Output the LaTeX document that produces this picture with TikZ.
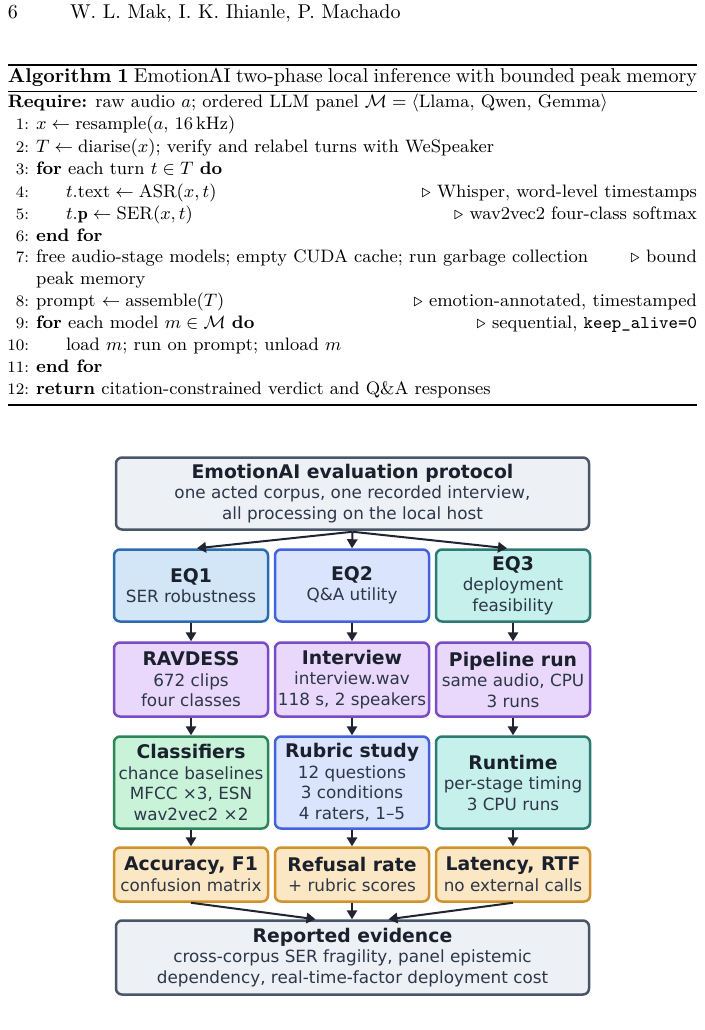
\documentclass[tikz,border=0pt]{standalone}
\usepackage{fontspec}
\usepackage{amsmath,amssymb}
\usetikzlibrary{arrows.meta}
\newfontfamily\dv{DejaVu Sans}
\definecolor{titc}{HTML}{1A202C}
\definecolor{bodc}{HTML}{2D3748}
\definecolor{arrc}{HTML}{1F2430}
\definecolor{gryf}{HTML}{EDF1F6}\definecolor{gryd}{HTML}{4A5568}
\definecolor{bluf}{HTML}{D2E6F8}\definecolor{blud}{HTML}{2B6CB0}
\definecolor{indf}{HTML}{DBE4FD}\definecolor{indd}{HTML}{4263DB}
\definecolor{tealf}{HTML}{C6F0EB}\definecolor{teald}{HTML}{2C7A72}
\definecolor{purf}{HTML}{E9D8FB}\definecolor{purd}{HTML}{7A4CC4}
\definecolor{grnf}{HTML}{C9F3D8}\definecolor{grnd}{HTML}{2F855A}
\definecolor{orgf}{HTML}{FCE7C4}\definecolor{orgd}{HTML}{CF922C}
\newcommand{\ttl}[1]{{\bfseries\color{titc}\fontsize{9.4}{10.5}\selectfont #1}}
\begin{document}
\begin{tikzpicture}[x=0.5pt,y=-0.5pt,
  hx/.style={inner sep=0pt,outer sep=0pt,font=\fontsize{10}{12}\selectfont},
  tx/.style={inner sep=0pt,outer sep=0pt,font=\fontsize{9}{11}\selectfont},
  lno/.style={inner sep=0pt,outer sep=0pt,anchor=base east,font=\fontsize{8}{9.5}\selectfont},
  box/.style={rounded corners=3pt,line width=1.25pt,align=center,inner sep=0pt,
    text=bodc,font=\dv\fontsize{8.4}{10.25}\selectfont},
  colbox/.style={box,minimum width=77pt},
  widebox/.style={box,minimum width=236.5pt},
  arr/.style={draw=arrc,line width=1pt,-{Triangle[length=4.5pt,width=5.2pt]}}
]
\fill[white] (0,0) rectangle (705,1030);
\useasboundingbox (0,0) rectangle (705,1030);
% header
\node[hx,anchor=base west] (pg) at (8,18) {6};
\node[hx,anchor=base west] (hd) at (70,18) {W. L. Mak, I. K. Ihianle, P. Machado};
% algorithm
\draw[line width=0.8pt] (8,65) -- (697,65);
\node[hx,anchor=base west] (cap) at (8,82) {\hbox to 344.5pt{\textbf{Algorithm 1} EmotionAI two-phase local inference with bounded peak memory}};
\draw[line width=0.4pt] (8,91.5) -- (697,91.5);
\node[tx,anchor=base west] (req) at (8,107) {\textbf{Require:} raw audio $a$; ordered LLM panel $\mathcal{M}=\langle$Llama, Qwen, Gemma$\rangle$};
\node[lno] (n1) at (29,129) {1:};
\node[tx,anchor=base west] (l1) at (36,129) {$x\leftarrow\mathrm{resample}(a,\,16\,\mathrm{kHz})$};
\node[lno] (n2) at (29,152) {2:};
\node[tx,anchor=base west] (l2) at (36,152) {$T\leftarrow\mathrm{diarise}(x)$; verify and relabel turns with WeSpeaker};
\node[lno] (n3) at (29,174) {3:};
\node[tx,anchor=base west] (l3) at (36,174) {\textbf{for} each turn $t\in T$ \textbf{do}};
\node[lno] (n4) at (29,197) {4:};
\node[tx,anchor=base west] (l4) at (66,197) {$t.\mathrm{text}\leftarrow\mathrm{ASR}(x,t)$};
\node[tx,anchor=base east] (c4) at (697,197) {$\triangleright$ Whisper, word-level timestamps};
\node[lno] (n5) at (29,219) {5:};
\node[tx,anchor=base west] (l5) at (66,219) {$t.\mathbf{p}\leftarrow\mathrm{SER}(x,t)$};
\node[tx,anchor=base east] (c5) at (697,219) {$\triangleright$ wav2vec2 four-class softmax};
\node[lno] (n6) at (29,241) {6:};
\node[tx,anchor=base west] (l6) at (36,241) {\textbf{end for}};
\node[lno] (n7) at (29,262) {7:};
\node[tx,anchor=base west] (l7) at (36,262) {free audio-stage models; empty CUDA cache; run garbage collection};
\node[tx,anchor=base east] (c7) at (697,262) {$\triangleright$ bound};
\node[tx,anchor=base west] (l7b) at (36,284) {peak memory};
\node[lno] (n8) at (29,306) {8:};
\node[tx,anchor=base west] (l8) at (36,306) {prompt $\leftarrow\mathrm{assemble}(T)$};
\node[tx,anchor=base east] (c8) at (697,306) {$\triangleright$ emotion-annotated, timestamped};
\node[lno] (n9) at (29,328) {9:};
\node[tx,anchor=base west] (l9) at (36,328) {\textbf{for} each model $m\in\mathcal{M}$ \textbf{do}};
\node[tx,anchor=base east] (c9) at (697,328) {$\triangleright$ sequential, \texttt{keep\_alive=0}};
\node[lno] (n10) at (29,350) {10:};
\node[tx,anchor=base west] (l10) at (66,350) {load $m$; run on prompt; unload $m$};
\node[lno] (n11) at (29,372) {11:};
\node[tx,anchor=base west] (l11) at (36,372) {\textbf{end for}};
\node[lno] (n12) at (29,394) {12:};
\node[tx,anchor=base west] (l12) at (36,394) {\textbf{return} citation-constrained verdict and Q\&A responses};
\draw[line width=0.6pt] (8,405) -- (697,405);
% diagram
\node[widebox,fill=gryf,draw=gryd,minimum height=36pt] (top) at (352.5,493.5)
  {\ttl{EmotionAI evaluation protocol}\\one acted corpus, one recorded interview,\\all processing on the local host};
\node[colbox,fill=bluf,draw=blud,minimum height=36pt] (eq1) at (191,585.5) {\ttl{EQ1}\\SER robustness};
\node[colbox,fill=indf,draw=indd,minimum height=36pt] (eq2) at (352,585.5) {\ttl{EQ2}\\Q\&A utility};
\node[colbox,fill=tealf,draw=teald,minimum height=36pt] (eq3) at (513,585.5) {\ttl{EQ3}\\deployment\\feasibility};
\node[colbox,fill=purf,draw=purd,minimum height=37pt] (rav) at (191,679.5) {\ttl{RAVDESS}\\672 clips\\four classes};
\node[colbox,fill=purf,draw=purd,minimum height=37pt] (int) at (352,679.5) {\ttl{Interview}\\interview.wav\\118 s, 2 speakers};
\node[colbox,fill=purf,draw=purd,minimum height=37pt] (pip) at (513,679.5) {\ttl{Pipeline run}\\same audio, CPU\\3 runs};
\node[colbox,fill=grnf,draw=grnd,minimum height=46pt] (cls) at (191,782.5) {\ttl{Classifiers}\\chance baselines\\MFCC ×3, ESN\\wav2vec2 ×2};
\node[colbox,fill=indf,draw=indd,minimum height=46pt] (rub) at (352,782.5) {\ttl{Rubric study}\\12 questions\\3 conditions\\4 raters, 1–5};
\node[colbox,fill=tealf,draw=teald,minimum height=46pt] (run) at (513,782.5) {\ttl{Runtime}\\per-stage timing\\3 CPU runs};
\node[colbox,fill=orgf,draw=orgd,minimum height=27pt] (acc) at (191,874.5) {\ttl{Accuracy, F1}\\confusion matrix};
\node[colbox,fill=orgf,draw=orgd,minimum height=27pt] (ref) at (352,874.5) {\ttl{Refusal rate}\\+ rubric scores};
\node[colbox,fill=orgf,draw=orgd,minimum height=27pt] (lat) at (513,874.5) {\ttl{Latency, RTF}\\no external calls};
\node[widebox,fill=gryf,draw=gryd,minimum height=37pt] (ev) at (352.5,957.5)
  {\ttl{Reported evidence}\\cross-corpus SER fragility, panel epistemic\\dependency, real-time-factor deployment cost};
% connectors
\draw[arr] ([yshift=-0.5pt]top.south) -- ([xshift=3pt]eq1.north);
\draw[arr] ([yshift=-0.5pt]top.south) -- (eq2.north);
\draw[arr] ([yshift=-0.5pt]top.south) -- ([xshift=-3pt]eq3.north);
\draw[arr] (eq1) -- (rav);
\draw[arr] (eq2) -- (int);
\draw[arr] (eq3) -- (pip);
\draw[arr] (rav) -- (cls);
\draw[arr] (int) -- (rub);
\draw[arr] (pip) -- (run);
\draw[arr] (cls) -- (acc);
\draw[arr] (rub) -- (ref);
\draw[arr] (run) -- (lat);
\draw[arr] (acc.south) -- ([xshift=-18.5pt]ev.north);
\draw[arr] (ref.south) -- ([xshift=-0.25pt]ev.north);
\draw[arr] (lat.south) -- ([xshift=18pt]ev.north);
\end{tikzpicture}
\end{document}
